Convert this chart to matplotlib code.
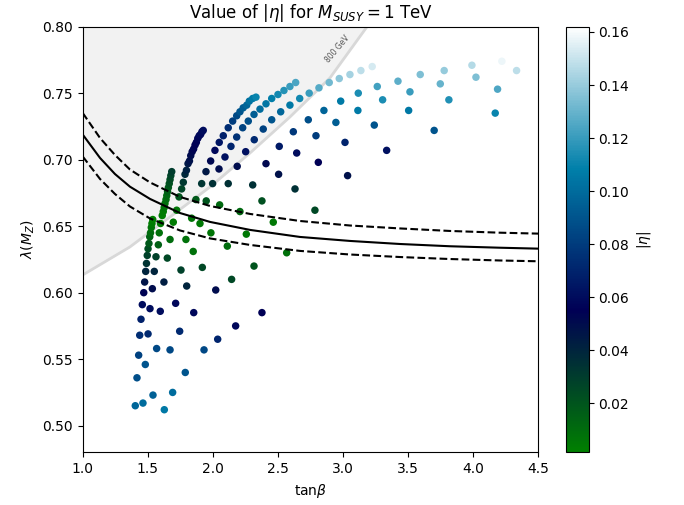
import numpy as np
import matplotlib
matplotlib.use("Agg")
import matplotlib.pyplot as plt

# ---- scan points (tan beta, lambda(M_Z), |eta|), grouped by scan line ----
f1_tb = [1.404, 1.417, 1.430, 1.438, 1.448, 1.458, 1.469, 1.476, 1.484, 1.490, 1.496, 1.502, 1.509, 1.515, 1.521, 1.527, 1.532, 1.538]
f1_lam = [0.515, 0.536, 0.553, 0.568, 0.580, 0.591, 0.600, 0.608, 0.616, 0.622, 0.628, 0.633, 0.637, 0.642, 0.645, 0.649, 0.652, 0.655]
f1_eta = [0.098, 0.088, 0.082, 0.074, 0.068, 0.060, 0.054, 0.047, 0.040, 0.034, 0.028, 0.023, 0.018, 0.014, 0.010, 0.007, 0.004, 0.002]

f2_tb = [1.463, 1.481, 1.502, 1.517, 1.535, 1.550, 1.563, 1.581, 1.588, 1.598, 1.611, 1.619, 1.626, 1.632, 1.640, 1.646, 1.652, 1.658, 1.665, 1.671, 1.677, 1.684]
f2_lam = [0.517, 0.546, 0.569, 0.588, 0.603, 0.616, 0.627, 0.636, 0.645, 0.652, 0.658, 0.661, 0.664, 0.667, 0.670, 0.673, 0.676, 0.679, 0.682, 0.685, 0.688, 0.691]
f2_eta = [0.100, 0.090, 0.072, 0.060, 0.050, 0.040, 0.028, 0.015, 0.008, 0.004, 0.003, 0.004, 0.006, 0.008, 0.010, 0.012, 0.015, 0.018, 0.021, 0.024, 0.027, 0.030]

f3_tb = [1.540, 1.568, 1.596, 1.624, 1.650, 1.671, 1.696, 1.722, 1.740, 1.760, 1.773, 1.786, 1.797, 1.809, 1.820, 1.830, 1.841, 1.852, 1.863, 1.873, 1.884, 1.895, 1.906, 1.916, 1.926]
f3_lam = [0.523, 0.558, 0.586, 0.608, 0.626, 0.640, 0.653, 0.662, 0.672, 0.678, 0.683, 0.689, 0.692, 0.697, 0.699, 0.703, 0.706, 0.708, 0.711, 0.713, 0.716, 0.718, 0.719, 0.721, 0.722]
f3_eta = [0.095, 0.085, 0.060, 0.043, 0.025, 0.010, 0.004, 0.006, 0.020, 0.026, 0.032, 0.038, 0.042, 0.045, 0.048, 0.050, 0.052, 0.054, 0.055, 0.056, 0.057, 0.058, 0.058, 0.059, 0.060]

f4_tb = [1.627, 1.671, 1.714, 1.755, 1.793, 1.837, 1.870, 1.914, 1.947, 1.983, 2.016, 2.049, 2.080, 2.118, 2.152, 2.183, 2.208, 2.233, 2.260, 2.280, 2.306, 2.331]
f4_lam = [0.512, 0.557, 0.592, 0.617, 0.640, 0.656, 0.670, 0.682, 0.691, 0.699, 0.707, 0.713, 0.718, 0.724, 0.729, 0.733, 0.736, 0.739, 0.741, 0.744, 0.746, 0.747]
f4_eta = [0.105, 0.085, 0.058, 0.028, 0.008, 0.006, 0.018, 0.033, 0.045, 0.052, 0.058, 0.064, 0.068, 0.074, 0.080, 0.085, 0.090, 0.094, 0.098, 0.102, 0.106, 0.110]

f5_tb = [1.691, 1.745, 1.799, 1.849, 1.901, 1.949, 1.998, 2.047, 2.093, 2.139, 2.183, 2.229, 2.272, 2.316, 2.362, 2.408, 2.452, 2.500, 2.546, 2.592, 2.636]
f5_lam = [0.525, 0.571, 0.605, 0.631, 0.652, 0.669, 0.682, 0.693, 0.702, 0.710, 0.717, 0.724, 0.729, 0.734, 0.738, 0.742, 0.746, 0.749, 0.752, 0.755, 0.758]
f5_eta = [0.100, 0.072, 0.040, 0.008, 0.005, 0.020, 0.035, 0.050, 0.062, 0.070, 0.076, 0.083, 0.088, 0.094, 0.100, 0.104, 0.108, 0.112, 0.116, 0.120, 0.124]

f6_tb = [1.788, 1.853, 1.919, 1.985, 2.052, 2.118, 2.187, 2.252, 2.318, 2.387, 2.452, 2.521, 2.592, 2.667, 2.740, 2.815, 2.894, 2.971, 3.053, 3.137, 3.224]
f6_lam = [0.540, 0.585, 0.619, 0.645, 0.666, 0.682, 0.695, 0.706, 0.715, 0.723, 0.730, 0.736, 0.741, 0.746, 0.750, 0.754, 0.758, 0.761, 0.764, 0.767, 0.770]
f6_eta = [0.090, 0.058, 0.025, 0.006, 0.012, 0.035, 0.050, 0.062, 0.072, 0.082, 0.090, 0.098, 0.105, 0.112, 0.120, 0.126, 0.132, 0.138, 0.143, 0.148, 0.153]

f7_tb = [1.932, 2.022, 2.111, 2.208, 2.306, 2.408, 2.510, 2.618, 2.733, 2.853, 2.982, 3.117, 3.263, 3.422, 3.593, 3.777, 3.990, 4.220]
f7_lam = [0.557, 0.602, 0.635, 0.661, 0.681, 0.697, 0.710, 0.721, 0.730, 0.737, 0.744, 0.750, 0.755, 0.759, 0.764, 0.767, 0.771, 0.774]
f7_eta = [0.085, 0.050, 0.010, 0.012, 0.035, 0.052, 0.066, 0.078, 0.088, 0.097, 0.106, 0.114, 0.122, 0.128, 0.135, 0.140, 0.146, 0.158]

f8_tb = [2.037, 2.144, 2.257, 2.377, 2.505, 2.644, 2.792, 2.945, 3.114, 3.304, 3.514, 3.747, 4.021, 4.333]
f8_lam = [0.565, 0.610, 0.644, 0.669, 0.689, 0.705, 0.718, 0.728, 0.737, 0.745, 0.751, 0.757, 0.762, 0.767]
f8_eta = [0.070, 0.025, 0.005, 0.022, 0.048, 0.060, 0.080, 0.094, 0.106, 0.114, 0.120, 0.130, 0.135, 0.148]

f9_tb = [2.175, 2.316, 2.464, 2.631, 2.810, 3.015, 3.240, 3.504, 3.813, 4.187]
f9_lam = [0.575, 0.620, 0.653, 0.678, 0.698, 0.713, 0.726, 0.737, 0.745, 0.753]
f9_eta = [0.058, 0.020, 0.005, 0.035, 0.055, 0.070, 0.090, 0.105, 0.115, 0.125]

f10_tb = [2.377, 2.567, 2.784, 3.035, 3.335, 3.700, 4.169]
f10_lam = [0.585, 0.630, 0.662, 0.688, 0.707, 0.722, 0.735]
f10_eta = [0.055, 0.008, 0.025, 0.048, 0.062, 0.090, 0.110]

# ---- lambda(M_Z) band: central value and upper / lower edges ----
band_tb = [1.0, 1.133, 1.248, 1.363, 1.517, 1.747, 1.978, 2.285, 2.669, 3.053, 3.437, 3.821, 4.205, 4.5]
band_mid = [0.7189, 0.7013, 0.6892, 0.6797, 0.6705, 0.6599, 0.6532, 0.6472, 0.6419, 0.6389, 0.6366, 0.6349, 0.6338, 0.6331]
band_hi = [0.7351, 0.7163, 0.7035, 0.6926, 0.6829, 0.6720, 0.6652, 0.6592, 0.6539, 0.6505, 0.6483, 0.6464, 0.6451, 0.6444]
band_lo = [0.7024, 0.6855, 0.6742, 0.6648, 0.6558, 0.6468, 0.6408, 0.6359, 0.6314, 0.6287, 0.6268, 0.6253, 0.6242, 0.6236]

# ---- excluded region boundary (800 GeV contour) ----
excl_tb = [1.0, 1.363, 1.670, 1.978, 2.285, 2.592, 2.899, 3.183, 3.30]
excl_lam = [0.6133, 0.6344, 0.6569, 0.6795, 0.7050, 0.7321, 0.7614, 0.7998, 0.83]

tb = np.concatenate([f1_tb, f2_tb, f3_tb, f4_tb, f5_tb, f6_tb, f7_tb, f8_tb, f9_tb, f10_tb])
lam = np.concatenate([f1_lam, f2_lam, f3_lam, f4_lam, f5_lam, f6_lam, f7_lam, f8_lam, f9_lam, f10_lam])
eta = np.concatenate([f1_eta, f2_eta, f3_eta, f4_eta, f5_eta, f6_eta, f7_eta, f8_eta, f9_eta, f10_eta])

fig = plt.figure(figsize=(6.84, 5.05), dpi=100)
ax = fig.add_axes([0.1209, 0.1044, 0.6661, 0.8428])
cax = fig.add_axes([0.8275, 0.1044, 0.0332, 0.8428])

# shaded excluded region
ax.fill_between(excl_tb, excl_lam, 0.9, color="#f2f2f2", zorder=0, linewidth=0)
ax.plot(excl_tb, excl_lam, color="#d8d8d8", linewidth=2, zorder=1)
ax.text(2.96, 0.7835, "800 GeV", rotation=50, fontsize=5.5, color="#555555",
        ha="center", va="center", zorder=1)

sc = ax.scatter(tb, lam, c=eta, cmap="ocean", vmin=0.0015, vmax=0.162,
                s=29, linewidths=0, zorder=2)

ax.plot(band_tb, band_mid, color="black", linewidth=1.5, zorder=3)
ax.plot(band_tb, band_hi, color="black", linewidth=1.5, linestyle="--", zorder=3)
ax.plot(band_tb, band_lo, color="black", linewidth=1.5, linestyle="--", zorder=3)

ax.set_xlim(1.0, 4.5)
ax.set_ylim(0.48, 0.80)
ax.set_xticks(np.arange(1.0, 4.51, 0.5))
ax.set_yticks(np.arange(0.50, 0.801, 0.05))
ax.set_xlabel(r"tan$\beta$")
ax.set_ylabel(r"$\lambda(M_Z)$")
ax.set_title(r"Value of $|\eta|$ for $M_{SUSY} = 1$ TeV")

cb = fig.colorbar(sc, cax=cax)
cb.set_ticks([0.02, 0.04, 0.06, 0.08, 0.10, 0.12, 0.14, 0.16])
cb.set_label(r"$|\eta|$")

fig.savefig("out.png", dpi=100)
